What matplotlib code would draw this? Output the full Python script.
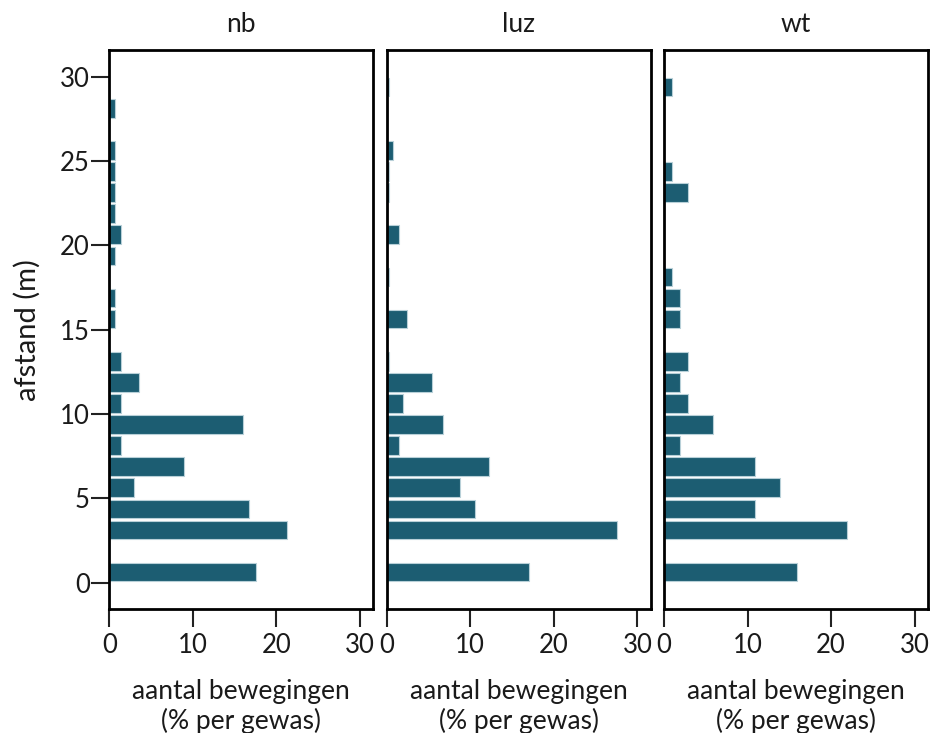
import numpy as np
import matplotlib
matplotlib.use('Agg')
import matplotlib.pyplot as plt

plt.rcParams['font.family'] = ['Lato', 'DejaVu Sans']

# afstandsklassen van 1.25 m (0 - 30 m)
klasse_breedte = 1.25
afstand = (np.arange(24) + 0.5) * klasse_breedte

gewassen = ['nb', 'luz', 'wt']

nb = [17.5, 0, 21.3, 16.7, 2.9, 9.0, 1.4, 16.0, 1.4, 3.6, 1.4, 0,
      0.7, 0.7, 0, 0.7, 1.4, 0.7, 0.7, 0.7, 0.7, 0, 0.7, 0]
luz = [17.0, 0, 27.6, 10.6, 8.8, 12.3, 1.5, 6.7, 2.0, 5.4, 0.25, 0,
       2.4, 0, 0.25, 0, 1.5, 0, 0.3, 0.3, 0.7, 0, 0, 0.3]
wt = [15.9, 0, 21.9, 10.9, 13.9, 10.9, 1.9, 5.9, 2.9, 1.9, 2.9, 0,
      1.9, 1.9, 0.95, 0, 0, 0, 2.9, 0.95, 0, 0, 0, 0.95]

waarden = [nb, luz, wt]

kleur = '#1c5d72'
rand = '#b8d0d8'
tekst = '#1a1a1a'

fig = plt.figure(figsize=(9.31, 7.33), dpi=100)
lefts = [109.3, 386.7, 664.0]
breedte = 264.0
onder = 1 - 609.3 / 733
hoogte = (609.3 - 50) / 733

for i, (naam, vals) in enumerate(zip(gewassen, waarden)):
    ax = fig.add_axes([lefts[i] / 931, onder, breedte / 931, hoogte])
    ax.barh(afstand, vals, height=1.1, color=kleur, edgecolor=rand, linewidth=0.8)
    ax.set_xlim(0, 31.6)
    ax.set_ylim(-1.58, 31.58)
    ax.set_xticks([0, 10, 20, 30])
    for s in ax.spines.values():
        s.set_linewidth(2.0)
        s.set_color('black')
    ax.tick_params(axis='x', length=13, width=1.5, labelsize=18.5, pad=4,
                   color='#222222', labelcolor=tekst)
    if i == 0:
        ax.set_yticks([0, 5, 10, 15, 20, 25, 30])
        ax.tick_params(axis='y', length=13, width=1.5, labelsize=18.5, pad=1,
                       color='#222222', labelcolor=tekst)
        ax.set_ylabel('afstand (m)', fontsize=21, color=tekst)
        ax.yaxis.set_label_coords(-0.26, 0.5)
    else:
        ax.set_yticks([])
    ax.set_title(naam, fontsize=19, color=tekst, pad=13)
    ax.set_xlabel('aantal bewegingen\n(% per gewas)', fontsize=19,
                  color=tekst, labelpad=15, linespacing=1.2)

fig.savefig('out.png', dpi=100)
